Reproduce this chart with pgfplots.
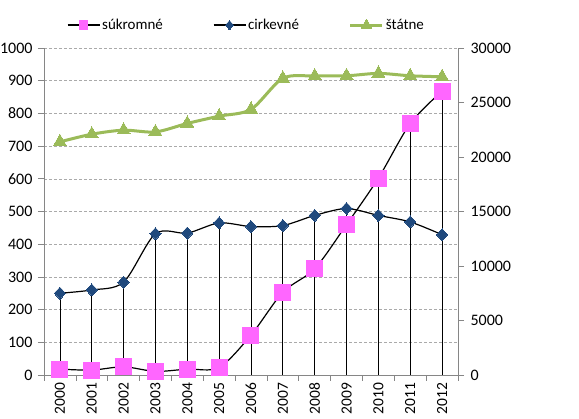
\documentclass[border=0pt]{standalone}
\usepackage{fontspec}
\setmainfont{Carlito}
\usepackage{pgfplots}
\pgfplotsset{compat=1.18}
\definecolor{cpink}{RGB}{255,102,255}
\definecolor{cblue}{RGB}{31,73,125}
\definecolor{cgreen}{RGB}{155,187,89}
\definecolor{caxis}{RGB}{134,134,134}
\definecolor{cgrid}{RGB}{170,170,170}

\pgfplotstableread{
x  val
0  18
1  15
2  25
3  11
4  18
5  23
6  122
7  253
8  325
9  460
10 602
11 769
12 868
}\sukromne

\pgfplotstableread{
x  val
0  250
1  260
2  284
3  432
4  434
5  465
6  454
7  457
8  488
9  509
10 488
11 468
12 429
}\cirkevne

\pgfplotstableread{
x  val
0  21390
1  22090
2  22460
3  22300
4  23080
5  23750
6  24370
7  27220
8  27430
9  27450
10 27670
11 27450
12 27360
}\statne

\begin{document}
\begin{tikzpicture}
\pgfplotsset{
  common/.style={
    scale only axis,
    width=414pt, height=327pt,
    xmin=-0.5, xmax=12.5,
    tick align=outside,
    major tick length=6pt,
    minor tick length=6pt,
    tick style={draw=caxis, line width=0.6pt},
    axis line style={draw=caxis, line width=0.8pt, -},
    ticklabel style={font=\fontsize{16}{19}\selectfont},
    /pgf/number format/assume math mode=true,
    /pgf/number format/1000 sep={},
    scaled ticks=false,
  }
}
\begin{axis}[
  common,
  axis x line*=bottom,
  axis y line*=left,
  ymin=0, ymax=1000,
  ytick={0,100,...,1000},
  yticklabel style={xshift=-2pt},
  ymajorgrids,
  major grid style={densely dashed, draw=cgrid, line width=0.5pt},
  xtick={0,1,...,12},
  xticklabels={2000,2001,2002,2003,2004,2005,2006,2007,2008,2009,2010,2011,2012},
  major x tick style={draw=none},
  minor xtick={-0.5,0.5,...,12.5},
  xticklabel style={rotate=90, anchor=east, inner sep=0.5pt, xshift=-1pt, font=\fontsize{15.5}{18}\selectfont},
  legend columns=3,
  legend style={at={(0.489,1.070)}, anchor=center, draw=none, fill=none,
    font=\fontsize{15}{18}\selectfont,
    /tikz/every even column/.append style={column sep=48pt}},
  legend image code/.code={\draw[mark repeat=2,mark phase=2] plot coordinates {(0pt,0pt) (16pt,0pt) (32pt,0pt)};},
]
\addlegendimage{black, line width=1.2pt, mark=square*, mark size=4.2pt, mark options={fill=cpink, draw=cpink, line width=0pt}}
\addlegendentry{súkromné}
\addlegendimage{black, line width=1.2pt, mark=diamond*, mark size=4.5pt, mark options={fill=cblue, draw=cblue, xscale=1.2, line width=0pt}}
\addlegendentry{cirkevné}
\addlegendimage{cgreen, line width=3pt, mark=triangle*, mark size=6pt, mark options={fill=cgreen, draw=cgreen, line width=0pt}}
\addlegendentry{štátne}
\addplot[black, line width=1.2pt, smooth, tension=0.5, mark=square*, forget plot,
  mark size=8pt, mark options={fill=cpink, draw=cpink, line width=0pt}] table[x=x,y=val] {\sukromne};
\addplot[black, line width=1.2pt, smooth, tension=0.5, mark=diamond*, forget plot,
  mark size=6pt, mark options={fill=cblue, draw=cblue, xscale=1.25, line width=0pt}] table[x=x,y=val] {\cirkevne};
\addplot[ycomb, black, line width=0.7pt, no marks, forget plot] table[x=x,y=val] {\sukromne};
\addplot[ycomb, black, line width=0.7pt, no marks, forget plot] table[x=x,y=val] {\cirkevne};
\end{axis}
\begin{axis}[
  common,
  axis x line=none,
  axis y line*=right,
  ymin=0, ymax=30000,
  ytick={0,5000,...,30000},
  yticklabel style={xshift=3pt},
]
\addplot[cgreen, line width=3pt, smooth, tension=0.5, mark=triangle*, mark size=7.5pt,
  mark options={fill=cgreen, draw=cgreen, line width=0pt}] table[x=x,y=val] {\statne};
\end{axis}
\pgfresetboundingbox
\path[use as bounding box] (-44pt,-44pt) rectangle (535pt,375pt);
\end{tikzpicture}
\end{document}
